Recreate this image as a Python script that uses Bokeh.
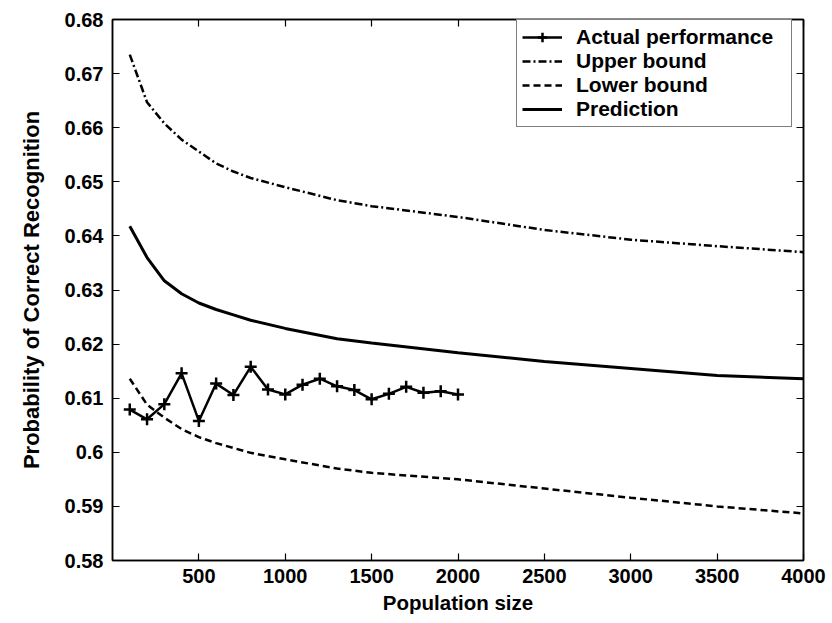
from bokeh.plotting import figure
from bokeh.models import (Range1d, FixedTicker, LinearAxis, CustomJSTickFormatter,
                          Legend, LegendItem)
from bokeh.embed import file_html
from bokeh.resources import INLINE

# ---- data ----
x_actual = [100, 200, 300, 400, 500, 600, 700, 800, 900, 1000,
            1100, 1200, 1300, 1400, 1500, 1600, 1700, 1800, 1900, 2000]
actual = [0.6079, 0.6061, 0.6089, 0.6146, 0.6058, 0.6127, 0.6106, 0.6158, 0.6116, 0.6107,
          0.6125, 0.6136, 0.6122, 0.6115, 0.6098, 0.6108, 0.6121, 0.6110, 0.6113, 0.6107]

curve_x = [100, 200, 300, 400, 500, 600, 700, 800, 1000, 1300, 1500,
           2000, 2500, 3000, 3500, 4000]
upper = [0.6735, 0.6647, 0.6608, 0.6578, 0.6556, 0.6534, 0.6519, 0.6507, 0.6490, 0.6466, 0.6455,
         0.6435, 0.6411, 0.6393, 0.6381, 0.6370]
prediction = [0.6418, 0.6360, 0.6317, 0.6293, 0.6276, 0.6264, 0.6254, 0.6244, 0.6229, 0.6210, 0.6202,
              0.6184, 0.6168, 0.6155, 0.6142, 0.6136]
lower = [0.6136, 0.6088, 0.6064, 0.6043, 0.6028, 0.6017, 0.6008, 0.5999, 0.5987, 0.5970, 0.5962,
         0.5950, 0.5933, 0.5916, 0.5900, 0.5887]

x_ticks = [500, 1000, 1500, 2000, 2500, 3000, 3500, 4000]
y_ticks = [0.58, 0.59, 0.60, 0.61, 0.62, 0.63, 0.64, 0.65, 0.66, 0.67, 0.68]

FONT = "Liberation Sans"

p = figure(frame_width=691, frame_height=541,
           x_range=Range1d(0, 4000), y_range=Range1d(0.58, 0.68),
           output_backend="svg", toolbar_location=None,
           min_border_left=112, min_border_right=24, min_border_top=19, min_border_bottom=50,
           x_axis_label="Population size",
           y_axis_label="Probability of Correct Recognition")
p.background_fill_color = "white"
p.border_fill_color = "white"
p.xgrid.visible = False
p.ygrid.visible = False
p.outline_line_color = "black"
p.outline_line_width = 1.5

p.xaxis.ticker = FixedTicker(ticks=x_ticks)
p.yaxis.ticker = FixedTicker(ticks=y_ticks)
p.yaxis.formatter = CustomJSTickFormatter(code="return String(Math.round(tick*100)/100);")

def style_axis(ax):
    ax.axis_line_color = "black"
    ax.axis_line_width = 1.5
    ax.major_tick_line_color = "black"
    ax.major_tick_line_width = 1.2
    ax.major_tick_in = 7
    ax.major_tick_out = 0
    ax.minor_tick_in = 0
    ax.minor_tick_out = 0
    ax.major_label_text_font = FONT
    ax.major_label_text_font_style = "bold"
    ax.major_label_text_font_size = "20px"
    ax.major_label_text_color = "black"
    ax.axis_label_text_font = FONT
    ax.axis_label_text_font_style = "bold"
    ax.axis_label_text_font_size = "20.5px"
    ax.axis_label_text_color = "black"

for ax in p.xaxis:
    style_axis(ax)
    ax.major_label_standoff = 8
    ax.axis_label_standoff = 5
for ax in p.yaxis:
    style_axis(ax)
    ax.major_label_standoff = 9
    ax.axis_label_standoff = 18
    ax.axis_label_text_font_size = "22px"

# box ticks on top and right
top = LinearAxis(ticker=FixedTicker(ticks=x_ticks),
                 formatter=CustomJSTickFormatter(code="return '';"))
right = LinearAxis(ticker=FixedTicker(ticks=y_ticks),
                   formatter=CustomJSTickFormatter(code="return '';"))
for ax in (top, right):
    style_axis(ax)
    ax.major_label_text_font_size = "1px"
    ax.major_label_standoff = 0
p.add_layout(top, "above")
p.add_layout(right, "right")

r_up = p.line(curve_x, upper, line_color="black", line_width=2.5, line_dash="8 3 2 3")
r_lo = p.line(curve_x, lower, line_color="black", line_width=2.5, line_dash="7 4")
r_pr = p.line(curve_x, prediction, line_color="black", line_width=3)
r_act = p.line(x_actual, actual, line_color="black", line_width=2.5)
r_act_m = p.scatter(x_actual, actual, marker="cross", size=12, line_color="black", line_width=2.5)

legend = Legend(items=[
    LegendItem(label="Actual performance", renderers=[r_act, r_act_m]),
    LegendItem(label="Upper bound", renderers=[r_up]),
    LegendItem(label="Lower bound", renderers=[r_lo]),
    LegendItem(label="Prediction", renderers=[r_pr]),
], location=(404, 433))
legend.margin = 0
legend.padding = 5
legend.spacing = 0
legend.label_height = 24
legend.glyph_height = 24
legend.glyph_width = 40
legend.label_standoff = 14
legend.label_width = 210
legend.label_text_font = FONT
legend.label_text_font_style = "bold"
legend.label_text_font_size = "21px"
legend.label_text_color = "black"
legend.border_line_color = "black"
legend.border_line_width = 1.5
legend.background_fill_color = "white"
legend.background_fill_alpha = 1
p.add_layout(legend)

open("out.html", "w").write(file_html(p, INLINE))
